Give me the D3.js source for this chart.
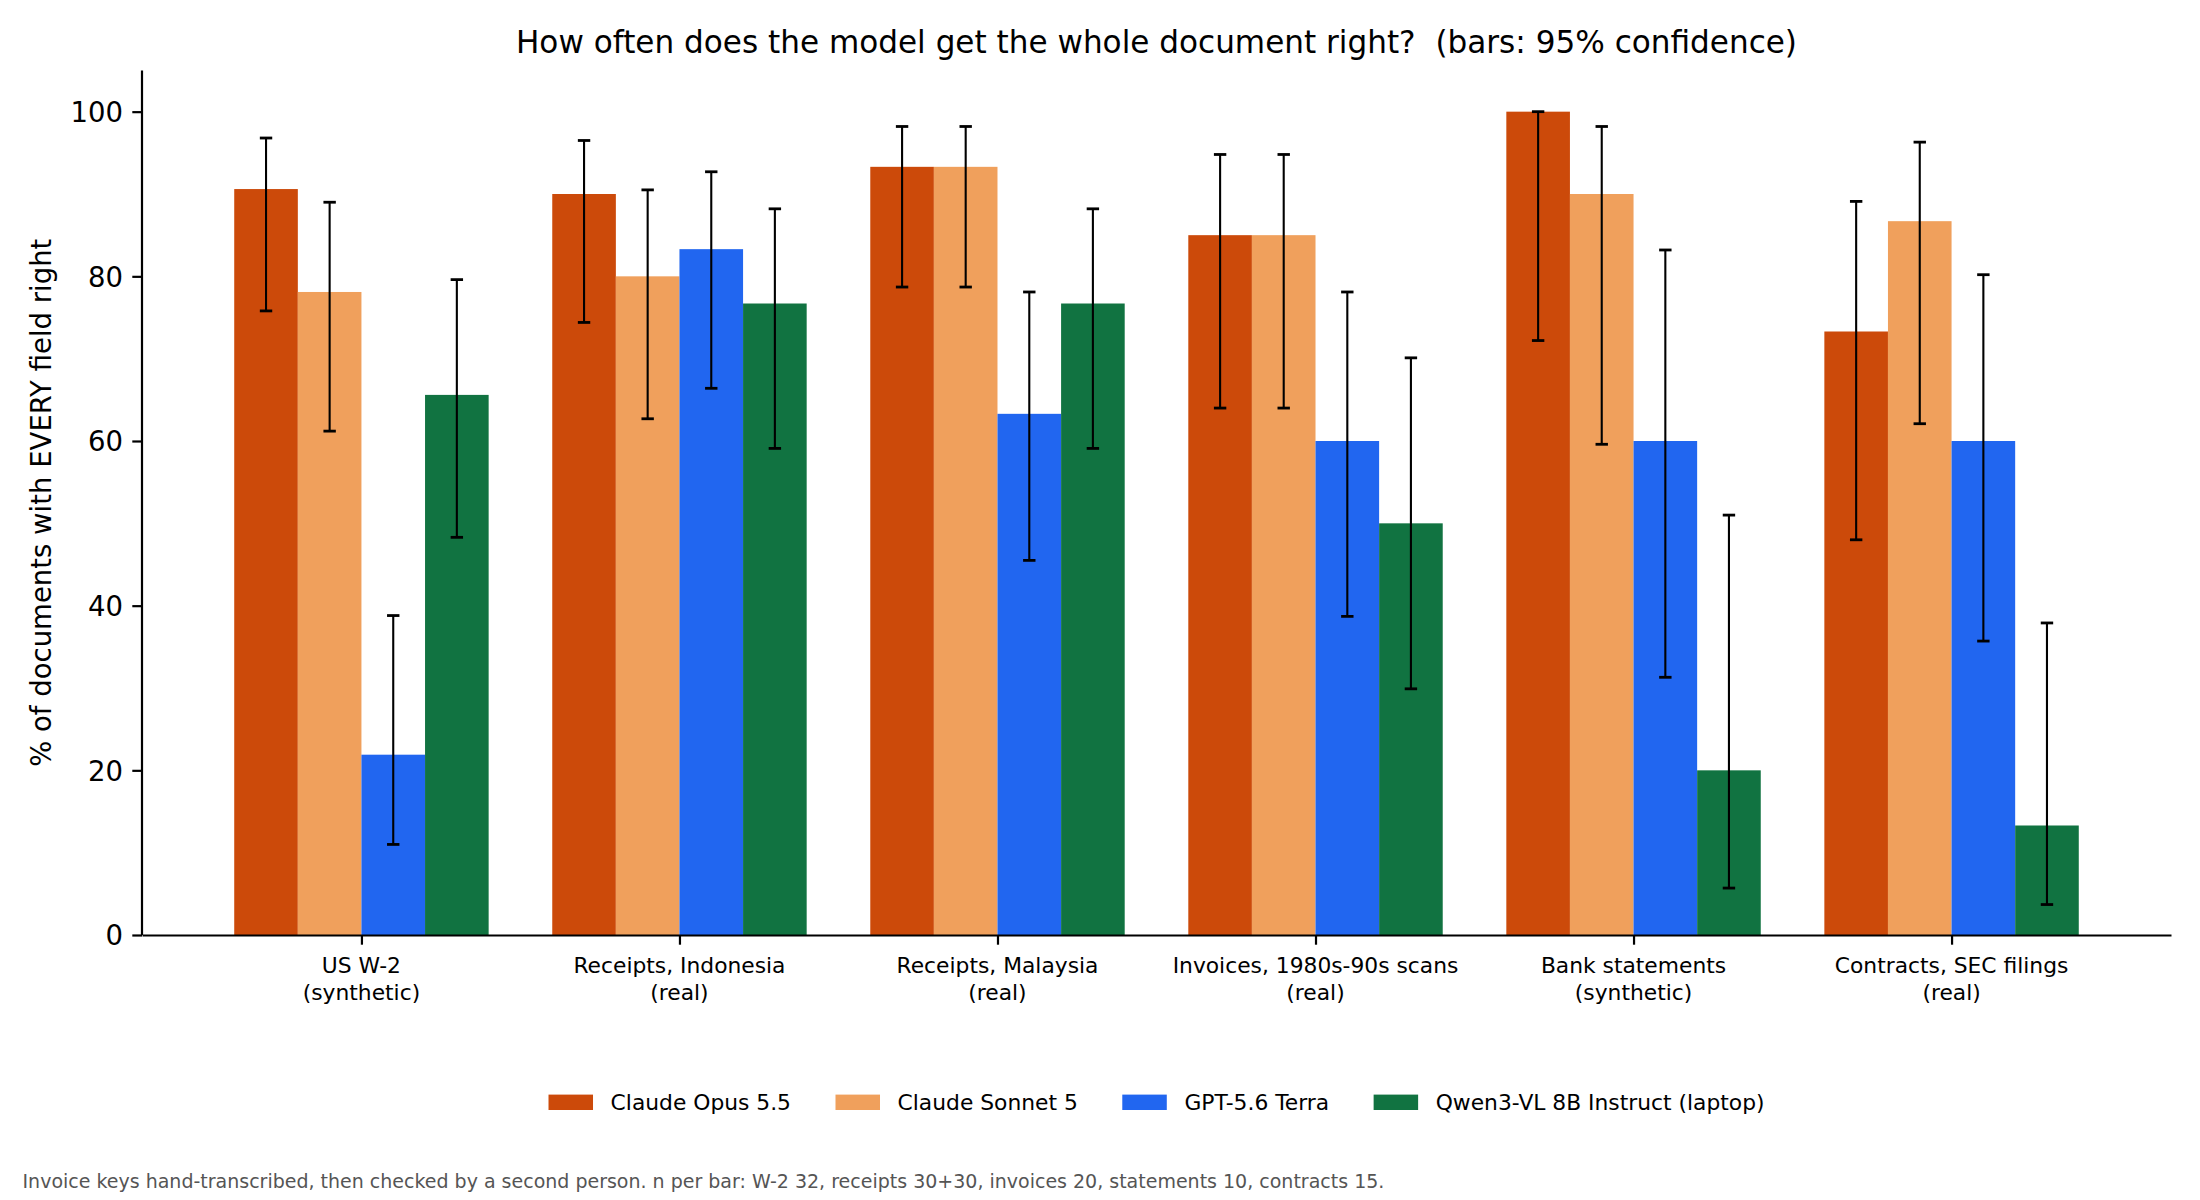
<!DOCTYPE html>
<html>
<head>
<meta charset="utf-8">
<script src="https://cdn.jsdelivr.net/npm/d3@7"></script>
<style>
	body { margin: 0; background: #fff; }
	svg text { font-family: "DejaVu Sans", sans-serif; fill: #000; }
</style>
</head>
<body>
<div id="chart"></div>
<script>

///////////////////////////////////////////////////////////////////////////
///////////////////////////////// Data ////////////////////////////////////
///////////////////////////////////////////////////////////////////////////

var categories = [
	["US W-2", "(synthetic)"],
	["Receipts, Indonesia", "(real)"],
	["Receipts, Malaysia", "(real)"],
	["Invoices, 1980s-90s scans", "(real)"],
	["Bank statements", "(synthetic)"],
	["Contracts, SEC filings", "(real)"]
];

var models = ["Claude Opus 5.5", "Claude Sonnet 5", "GPT-5.6 Terra", "Qwen3-VL 8B Instruct (laptop)"];
var colors = ["#cc4a0a", "#f0a05c", "#2166f0", "#117341"];

//% of documents fully correct, one array per model (one value per category)
var opus   = [90.6, 90.0, 93.3, 85.0, 100.0, 73.3];
var sonnet = [78.1, 80.0, 93.3, 85.0, 90.0, 86.7];
var gpt    = [21.9, 83.3, 63.3, 60.0, 60.0, 60.0];
var qwen   = [65.6, 76.7, 76.7, 50.0, 20.0, 13.3];

//95% confidence interval, lower and upper ends
var opusLow    = [75.8, 74.4, 78.7, 64.0, 72.2, 48.0];
var opusHigh   = [96.8, 96.5, 98.2, 94.8, 100.0, 89.1];
var sonnetLow  = [61.2, 62.7, 78.7, 64.0, 59.6, 62.1];
var sonnetHigh = [89.0, 90.5, 98.2, 94.8, 98.2, 96.3];
var gptLow     = [11.0, 66.4, 45.5, 38.7, 31.3, 35.7];
var gptHigh    = [38.8, 92.7, 78.1, 78.1, 83.2, 80.2];
var qwenLow    = [48.3, 59.1, 59.1, 29.9, 5.7, 3.7];
var qwenHigh   = [79.6, 88.2, 88.2, 70.1, 51.0, 37.9];

var yTicks = [0, 20, 40, 60, 80, 100];

var values = [opus, sonnet, gpt, qwen];
var lows = [opusLow, sonnetLow, gptLow, qwenLow];
var highs = [opusHigh, sonnetHigh, gptHigh, qwenHigh];

///////////////////////////////////////////////////////////////////////////
//////////////////// Set up and initiate svg containers ///////////////////
///////////////////////////////////////////////////////////////////////////

var width = 2200, height = 1200;
var plot = { left: 142, right: 2171, top: 70.5, bottom: 935 };

var svg = d3.select("#chart").append("svg")
	.attr("width", width)
	.attr("height", height);

var barWidth = 0.2;
var x = d3.scaleLinear()
	.domain([-0.5 * 0.8 - 0.29, categories.length - 1 + 0.5 * 0.8 + 0.29])
	.range([plot.left, plot.right]);

var y = d3.scaleLinear()
	.domain([0, 105])
	.range([plot.bottom, plot.top]);

///////////////////////////////////////////////////////////////////////////
/////////////////////////////// Bars + errors /////////////////////////////
///////////////////////////////////////////////////////////////////////////

var rows = [];
models.forEach(function(m, mi) {
	categories.forEach(function(c, ci) {
		rows.push({
			model: mi,
			cat: ci,
			value: values[mi][ci],
			low: lows[mi][ci],
			high: highs[mi][ci],
			pos: ci + (mi - 1.5) * barWidth
		});
	});
});

svg.append("g").selectAll("rect")
	.data(rows)
	.enter().append("rect")
	.attr("x", function(d) { return x(d.pos - barWidth / 2); })
	.attr("width", function(d) { return x(d.pos + barWidth / 2) - x(d.pos - barWidth / 2); })
	.attr("y", function(d) { return y(d.value); })
	.attr("height", function(d) { return y(0) - y(d.value); })
	.style("fill", function(d) { return colors[d.model]; });

var errWrapper = svg.append("g").attr("class", "errWrapper");
var cap = 6.2;

errWrapper.selectAll(".err")
	.data(rows)
	.enter().append("line")
	.attr("x1", function(d) { return x(d.pos); })
	.attr("x2", function(d) { return x(d.pos); })
	.attr("y1", function(d) { return y(d.low); })
	.attr("y2", function(d) { return y(d.high); })
	.style("stroke", "#000")
	.style("stroke-width", 2.1);

["low", "high"].forEach(function(k) {
	errWrapper.selectAll(".cap-" + k)
		.data(rows)
		.enter().append("line")
		.attr("x1", function(d) { return x(d.pos) - cap; })
		.attr("x2", function(d) { return x(d.pos) + cap; })
		.attr("y1", function(d) { return y(d[k]); })
		.attr("y2", function(d) { return y(d[k]); })
		.style("stroke", "#000")
		.style("stroke-width", 2.8);
});

///////////////////////////////////////////////////////////////////////////
//////////////////////////////// Axes /////////////////////////////////////
///////////////////////////////////////////////////////////////////////////

var yAxis = svg.append("g")
	.attr("transform", "translate(" + plot.left + ",0)")
	.call(d3.axisLeft(y).tickValues(yTicks).tickSize(9.7).tickPadding(9.2).tickSizeOuter(0));

yAxis.selectAll("text").style("font-size", "27.5px").attr("dy", "0.36em");

var xAxis = svg.append("g")
	.attr("transform", "translate(0," + plot.bottom + ")")
	.call(d3.axisBottom(x).tickValues(d3.range(categories.length)).tickSize(9.7).tickSizeOuter(0).tickFormat(""));

[yAxis, xAxis].forEach(function(a) {
	a.select(".domain").style("stroke", "#000").style("stroke-width", 2.2);
	a.selectAll(".tick line").style("stroke", "#000").style("stroke-width", 2.2);
});

//y axis spine goes up to the top of the plot
yAxis.select(".domain").attr("d", "M0," + plot.bottom + "V" + plot.top);

//Category labels on two lines
var catLabels = svg.append("g").selectAll("text")
	.data(categories)
	.enter().append("text")
	.attr("x", function(d, i) { return x(i); })
	.attr("y", 973)
	.style("text-anchor", "middle")
	.style("font-size", "21.8px");

catLabels.append("tspan")
	.attr("x", function(d, i) { return x(i); })
	.text(function(d) { return d[0]; });
catLabels.append("tspan")
	.attr("x", function(d, i) { return x(i); })
	.attr("dy", 26.5)
	.text(function(d) { return d[1]; });

//Title
svg.append("text")
	.attr("x", (plot.left + plot.right) / 2)
	.attr("y", 53.3)
	.style("text-anchor", "middle")
	.style("font-size", "31.1px")
	.style("white-space", "pre")
	.text("How often does the model get the whole document right?  (bars: 95% confidence)");

//Y label
svg.append("text")
	.attr("transform", "translate(51," + (plot.top + plot.bottom) / 2 + ") rotate(-90)")
	.style("text-anchor", "middle")
	.style("font-size", "27.5px")
	.text("% of documents with EVERY field right");

///////////////////////////////////////////////////////////////////////////
/////////////////////////////// Legend ////////////////////////////////////
///////////////////////////////////////////////////////////////////////////

var legend = svg.append("g").attr("class", "legend");
var handleW = 44.5, handleH = 15.4, textPad = 17.6, colSpace = 44.5, legendY = 1102.3;

var items = legend.selectAll(".item")
	.data(models)
	.enter().append("g")
	.attr("class", "item");

items.append("rect")
	.attr("width", handleW)
	.attr("height", handleH)
	.attr("y", legendY - handleH / 2)
	.style("fill", function(d, i) { return colors[i]; });

items.append("text")
	.attr("x", handleW + textPad)
	.attr("y", legendY + 8)
	.style("font-size", "21.8px")
	.text(function(d) { return d; });

var offsets = [], total = 0;
items.each(function(d, i) {
	var w = handleW + textPad + d3.select(this).select("text").node().getComputedTextLength();
	offsets.push(total);
	total += w + (i < models.length - 1 ? colSpace : 0);
});
var legendStart = (plot.left + plot.right) / 2 - total / 2;
items.attr("transform", function(d, i) { return "translate(" + (legendStart + offsets[i]) + ",0)"; });

//Footnote
svg.append("text")
	.attr("x", 22.5)
	.attr("y", 1188)
	.style("font-size", "19px")
	.style("fill", "#555")
	.text("Invoice keys hand-transcribed, then checked by a second person. n per bar: W-2 32, receipts 30+30, invoices 20, statements 10, contracts 15.");

</script>
</body>
</html>
